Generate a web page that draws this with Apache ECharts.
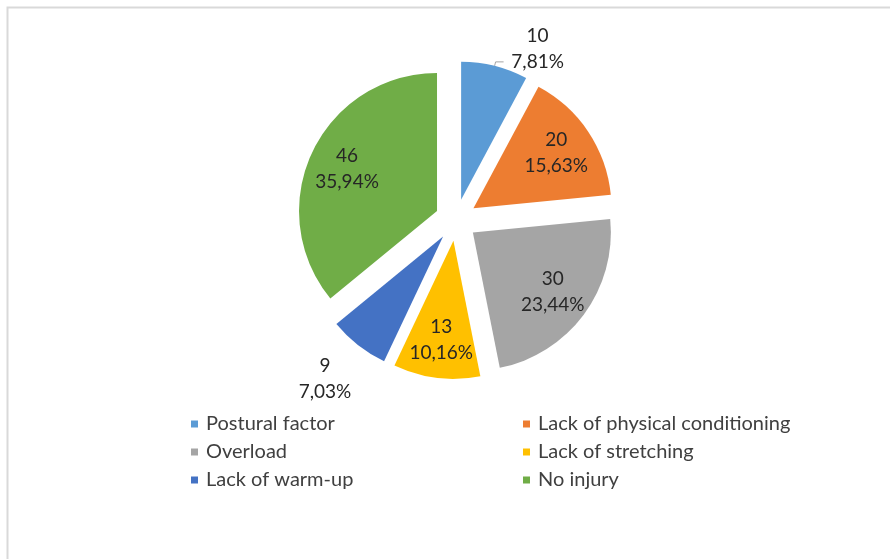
<!DOCTYPE html>
<html>
<head>
<meta charset="utf-8">
<script src="https://cdn.jsdelivr.net/npm/echarts@6/dist/echarts.min.js"></script>
<style>
  html, body { margin: 0; padding: 0; background: #fff; }
  #main { width: 890px; height: 559px; }
</style>
</head>
<body>
<div id="main"></div>
<script>
var categories = ['Postural factor', 'Lack of physical conditioning', 'Overload',
    'Lack of stretching', 'Lack of warm-up', 'No injury'];
var values = [10, 20, 30, 13, 9, 46];
var colors = ['#5B9BD5', '#ED7D31', '#A5A5A5', '#FFC000', '#4472C4', '#70AD47'];

var total = values.reduce(function (a, b) { return a + b; }, 0);
var fontName = 'Lato';

function pct(v) {
    return (v / total * 100).toFixed(2).replace('.', ',') + '%';
}

var myChart = echarts.init(document.getElementById('main'));

var pieData = categories.map(function (name, i) {
    return { name: name, value: values[i], selected: true, itemStyle: { color: colors[i] } };
});

// labels sit on a ring so "inside" lands around 70% of the radius like in Excel
var labelData = categories.map(function (name, i) {
    var item = { name: name, value: values[i], selected: true };
    if (i == 0) {
        item.label = {
            position: 'outside',
            formatter: function (p) { return '{a|' + p.value + '}\n{a|' + pct(p.value) + '}\n{a| }'; }
        };
        item.labelLine = { show: true, length: 4, length2: 8, lineStyle: { color: '#a6a6a6', width: 1 } };
    } else if (i == 4) {
        item.label = {
            position: 'outside',
            distanceToLabelLine: -2,
            formatter: function (p) { return '{a| }\n{a| }\n{a|' + p.value + '}\n{a|' + pct(p.value) + '}'; }
        };
        item.labelLine = { show: false, length: 10, length2: 0 };
    }
    return item;
});

var legendText = { fontFamily: fontName, fontSize: 20, color: '#404040', lineHeight: 20, padding: [0, 0, 0, 3] };

var option = {
    backgroundColor: '#fff',
    animation: false,
    graphic: [{
        type: 'rect',
        shape: { x: 7.5, y: 7.5, width: 1000, height: 700 },
        style: { fill: 'none', stroke: '#d9d9d9', lineWidth: 2 },
        silent: true
    }],
    legend: [{
        orient: 'vertical',
        left: 186,
        top: 409,
        icon: 'rect',
        itemWidth: 7,
        itemHeight: 7,
        itemGap: 8,
        selectedMode: false,
        data: [categories[0], categories[2], categories[4]],
        textStyle: legendText
    }, {
        orient: 'vertical',
        left: 518,
        top: 409,
        icon: 'rect',
        itemWidth: 7,
        itemHeight: 7,
        itemGap: 8,
        selectedMode: false,
        data: [categories[1], categories[3], categories[5]],
        textStyle: legendText
    }],
    series: [{
        name: 'Injury',
        type: 'pie',
        center: [456, 220],
        radius: [0, 138],
        startAngle: 90,
        clockwise: true,
        selectedMode: 'multiple',
        selectedOffset: 21,
        avoidLabelOverlap: false,
        label: { show: false },
        labelLine: { show: false },
        emphasis: { disabled: true },
        data: pieData
    }, {
        name: 'labels',
        type: 'pie',
        silent: true,
        center: [456, 220],
        radius: [55, 138],
        startAngle: 90,
        clockwise: true,
        selectedMode: 'multiple',
        selectedOffset: 21,
        avoidLabelOverlap: false,
        itemStyle: { color: 'rgba(0,0,0,0)', borderWidth: 0 },
        emphasis: { disabled: true },
        label: {
            show: true,
            position: 'inside',
            color: '#262626',
            fontFamily: fontName,
            fontSize: 19,
            formatter: function (p) { return '{a|' + p.value + '}\n{a|' + pct(p.value) + '}'; },
            rich: {
                a: { fontFamily: fontName, fontSize: 19, color: '#262626', lineHeight: 26, width: 58, align: 'center' }
            }
        },
        labelLine: { show: false },
        data: labelData
    }]
};
myChart.setOption(option);
</script>
</body>
</html>
